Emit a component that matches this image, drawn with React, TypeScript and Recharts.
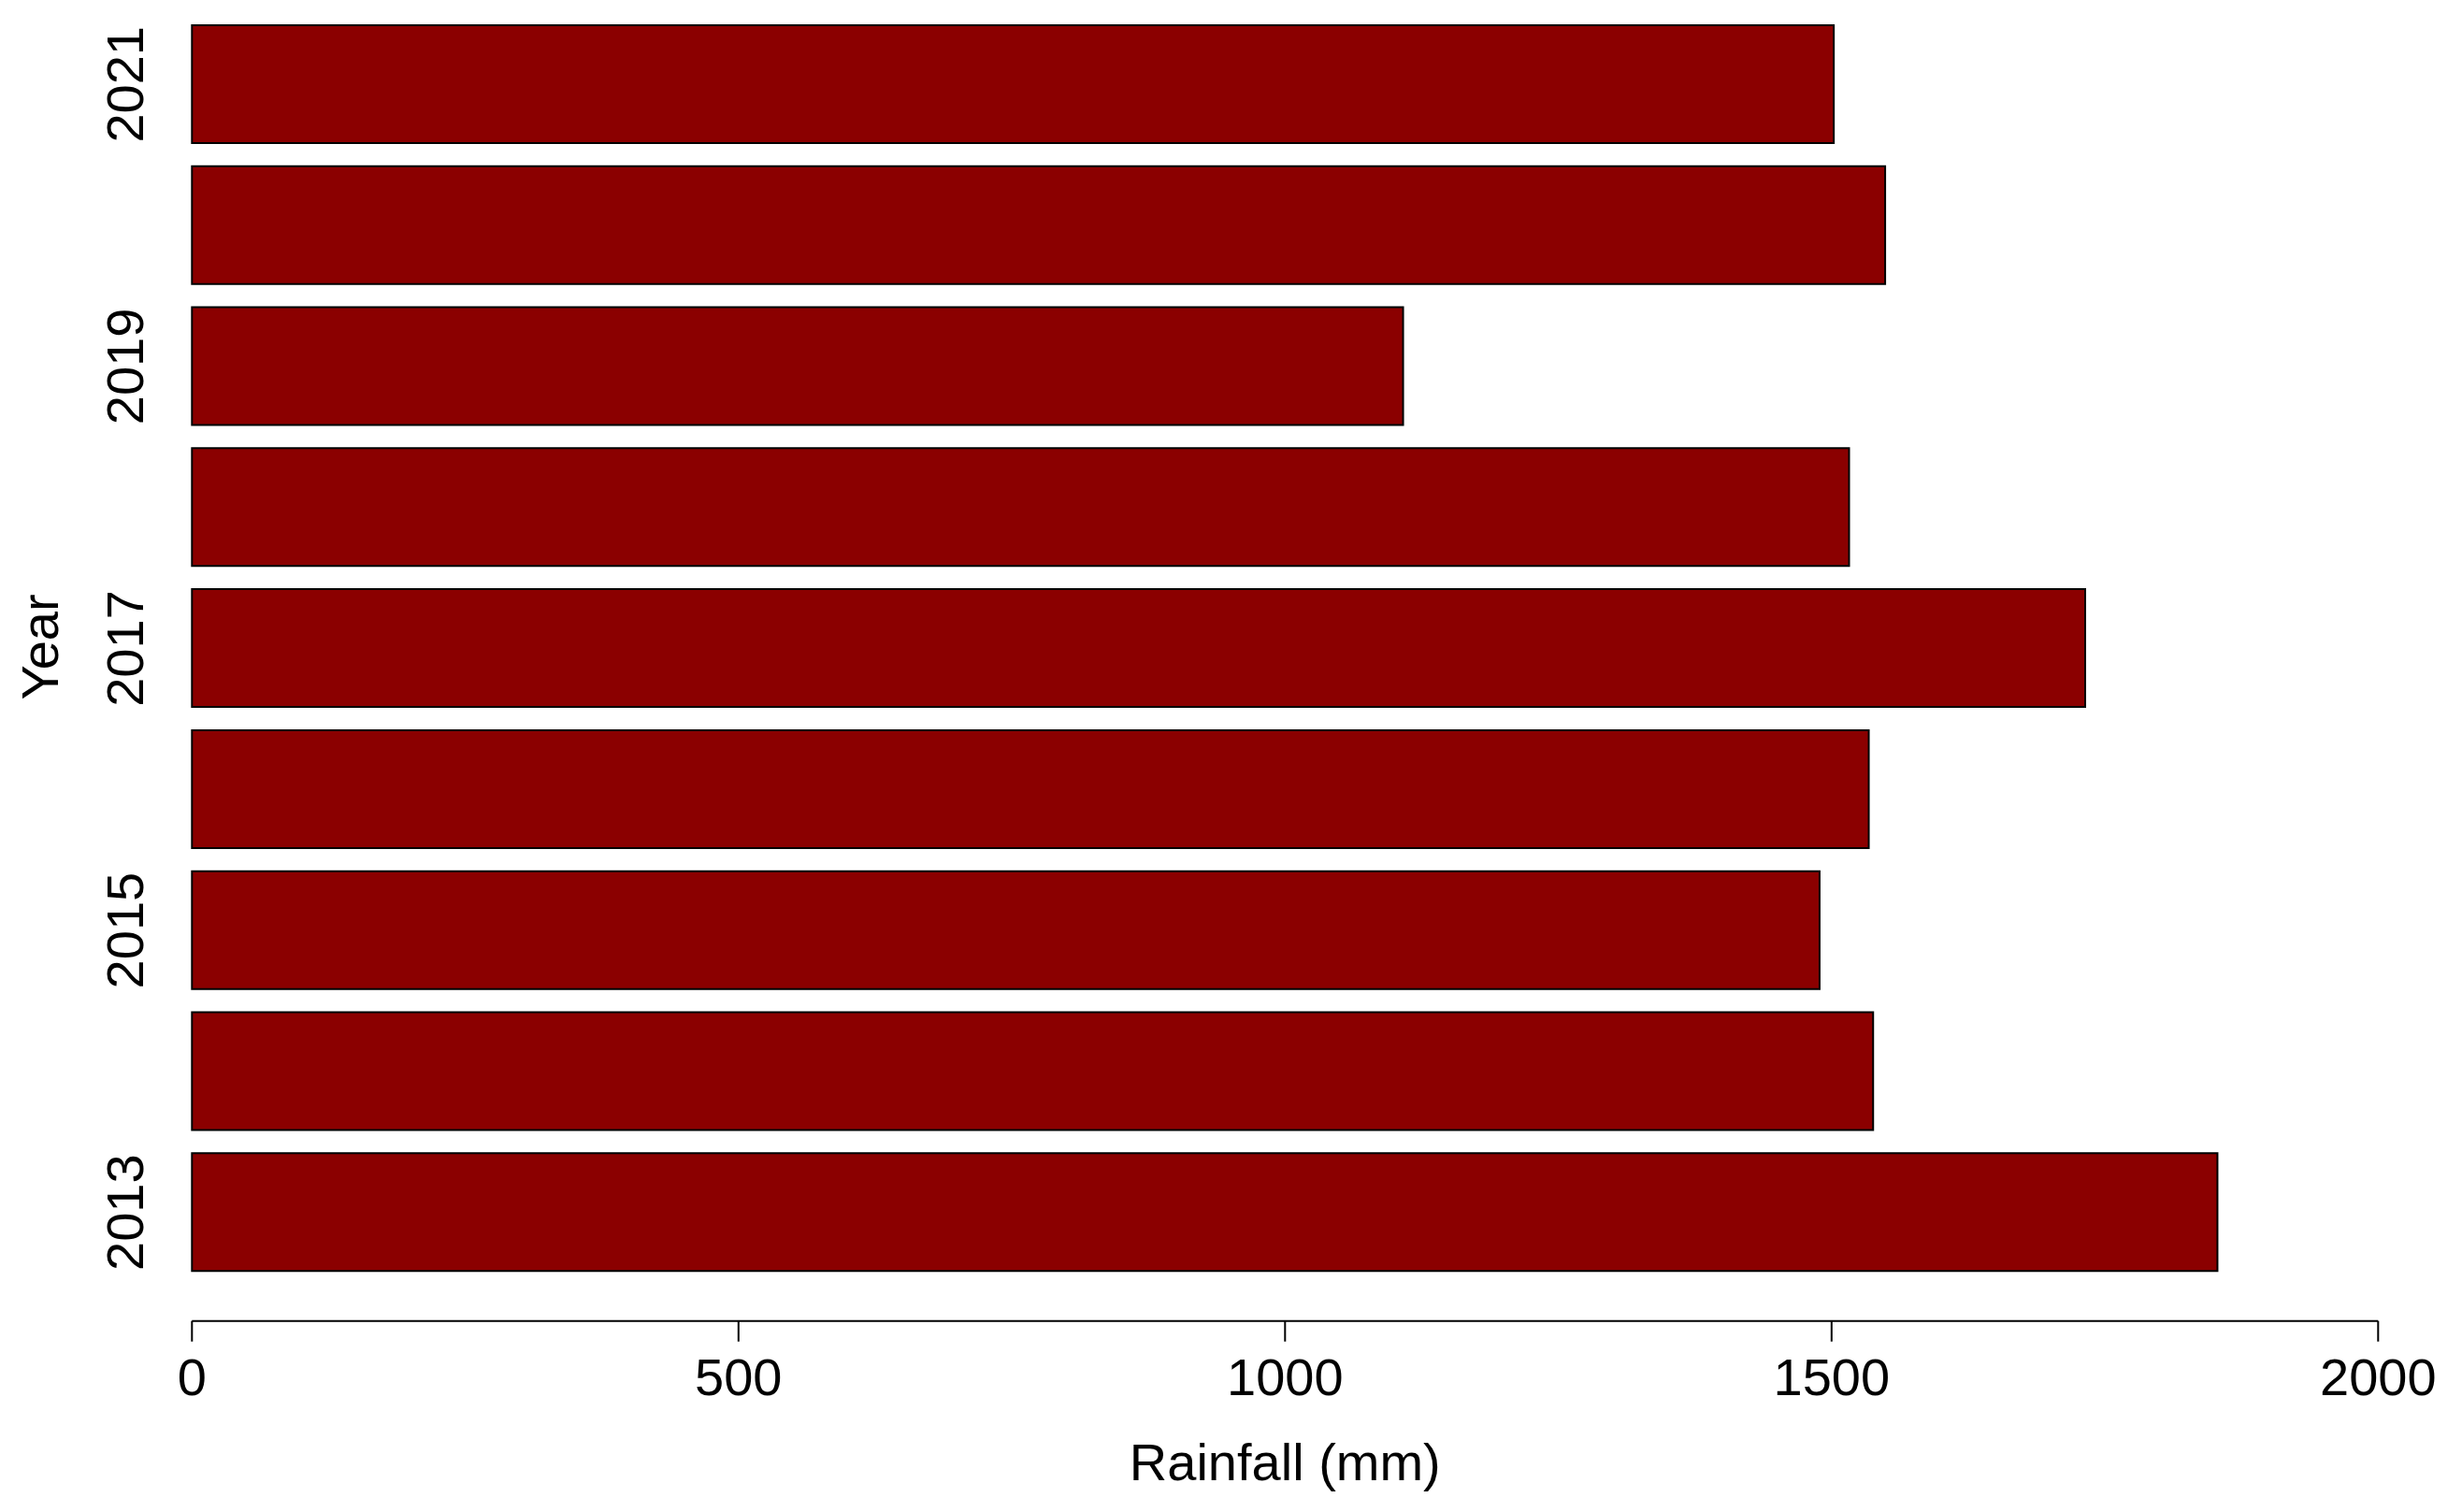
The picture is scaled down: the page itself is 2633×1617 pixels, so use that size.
import { BarChart, Bar, XAxis, YAxis, Label } from 'recharts';

// top to bottom, as drawn
const years = ['2021', '2020', '2019', '2018', '2017', '2016', '2015', '2014', '2013'];
const rainfall = [1502, 1549, 1108, 1516, 1732, 1534, 1489, 1538, 1853];
const xTicks = [0, 500, 1000, 1500, 2000];
const yearLabels = ['2021', '2019', '2017', '2015', '2013'];

const data = years.map((year, i) => ({ year, rainfall: rainfall[i] }));

const FONT = '"Liberation Sans", Arial, Helvetica, sans-serif';

const YearTick = (props: any) => {
    const { x, y, payload } = props;
    if (!yearLabels.includes(payload.value)) return <g />;
    return (
        <text
            x={x}
            y={y}
            transform={`rotate(-90 ${x} ${y})`}
            textAnchor='middle'
            fontSize={56}
            fontFamily={FONT}
            fill='#000'
        >
            {payload.value}
        </text>
    );
};

const YearLabel = () => (
    <text
        x={62}
        y={692}
        transform='rotate(-90 62 692)'
        textAnchor='middle'
        fontSize={56}
        fontFamily={FONT}
        fill='#000'
    >
        Year
    </text>
);

export default function App() {
    return (
        <div style={{ width: 2633, height: 1617, background: '#fff' }}>
            <style>{'body{margin:0}'}</style>
            <BarChart
                width={2633}
                height={1617}
                data={data}
                layout='vertical'
                margin={{ top: 14.9, right: 89.7, bottom: 0, left: 0 }}
                style={{ fontFamily: FONT }}
            >
                <XAxis
                    type='number'
                    domain={[0, 2000]}
                    ticks={xTicks}
                    interval={0}
                    height={204.3}
                    tickSize={22}
                    tickMargin={18}
                    axisLine={{ stroke: '#000', strokeWidth: 2 }}
                    tickLine={{ stroke: '#000', strokeWidth: 2 }}
                    tick={{ fontSize: 56, fill: '#000', fontFamily: FONT }}
                >
                    <Label
                        value='Rainfall (mm)'
                        position='insideBottom'
                        offset={34}
                        fontSize={56}
                        fill='#000'
                        fontFamily={FONT}
                    />
                </XAxis>
                <YAxis
                    type='category'
                    dataKey='year'
                    width={205.3}
                    interval={0}
                    padding={{ top: 0, bottom: 40.6 }}
                    axisLine={false}
                    tickLine={false}
                    tickSize={0}
                    tickMargin={52}
                    tick={<YearTick />}
                >
                    <Label content={<YearLabel />} />
                </YAxis>
                <Bar
                    dataKey='rainfall'
                    barSize={126}
                    fill='#8B0000'
                    stroke='#000'
                    strokeWidth={2}
                    isAnimationActive={false}
                />
            </BarChart>
        </div>
    );
}
